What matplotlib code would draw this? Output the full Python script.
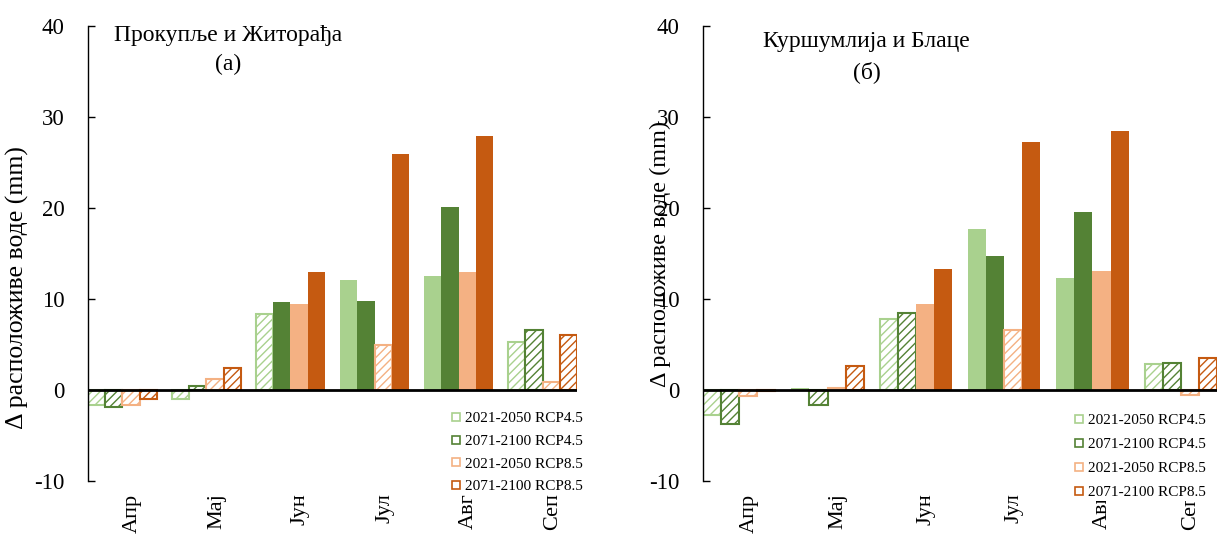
import numpy as np
import matplotlib.pyplot as plt
import matplotlib.transforms as mtransforms
from matplotlib.lines import Line2D

plt.rcParams['font.family'] = ['Liberation Serif', 'DejaVu Serif']
plt.rcParams['hatch.linewidth'] = 1.0
plt.rcParams['axes.unicode_minus'] = False

# месеци
months = ['Апр', 'Мај', 'Јун', 'Јул', 'Авг', 'Сеп']
series_names = ['2021-2050 RCP4.5', '2071-2100 RCP4.5', '2021-2050 RCP8.5', '2071-2100 RCP8.5']
colors = ['#A9D18E', '#548235', '#F4B183', '#C55A11']

# (а) Прокупље и Житорађа
a_45_2050 = [-1.6, -1.0, 8.4, 12.1, 12.5, 5.3]
a_45_2100 = [-1.9, 0.4, 9.7, 9.8, 20.1, 6.6]
a_85_2050 = [-1.6, 1.25, 9.5, 5.0, 12.95, 0.9]
a_85_2100 = [-1.0, 2.45, 13.0, 25.9, 27.9, 6.05]
# шрафирано = 1
a_hatch_45_2050 = [1, 1, 1, 0, 0, 1]
a_hatch_45_2100 = [1, 1, 0, 0, 0, 1]
a_hatch_85_2050 = [1, 1, 0, 1, 0, 1]
a_hatch_85_2100 = [1, 1, 0, 0, 0, 1]

# (б) Куршумлија и Блаце
b_45_2050 = [-2.7, 0.2, 7.8, 17.7, 12.3, 2.85]
b_45_2100 = [-3.7, -1.7, 8.5, 14.7, 19.6, 2.95]
b_85_2050 = [-0.7, 0.25, 9.45, 6.6, 13.05, -0.6]
b_85_2100 = [-0.15, 2.6, 13.3, 27.3, 28.5, 3.5]
b_hatch_45_2050 = [1, 0, 1, 0, 0, 1]
b_hatch_45_2100 = [1, 1, 1, 0, 0, 1]
b_hatch_85_2050 = [1, 1, 0, 1, 0, 1]
b_hatch_85_2100 = [1, 1, 0, 0, 0, 1]

W, H = 1232, 536
fig = plt.figure(figsize=(W / 100, H / 100), dpi=100)


def px_axes(x0, x1, y0, y1):
    return fig.add_axes([x0 / W, 1 - y1 / H, (x1 - x0) / W, (y1 - y0) / H])


def draw_panel(ax, data, hatches, ylab_x, ylab_y, ylab_size, legend_xy, legend_sp):
    x = np.arange(len(months))
    bw = 0.205
    for k in range(4):
        xs = x + (k - 1.5) * bw
        for i in range(len(months)):
            if hatches[k][i]:
                ax.bar(xs[i], data[k][i], bw, facecolor='white', edgecolor=colors[k],
                       hatch='////', linewidth=1.5, zorder=2)
            else:
                ax.bar(xs[i], data[k][i], bw, color=colors[k], linewidth=0, zorder=2)
    ax.axhline(0, color='black', lw=2, zorder=3)
    ax.set_xlim(-0.41, len(months) - 1 + 0.41)
    ax.set_ylim(-10, 40)
    ax.set_yticks([-10, 0, 10, 20, 30, 40])
    ax.tick_params(axis='y', direction='in', length=5, width=1, labelsize=16.5, pad=17)
    ax.set_xticks(x)
    ax.set_xticklabels(months, rotation=90, fontsize=16)
    ax.tick_params(axis='x', length=0, pad=9)
    offset = mtransforms.ScaledTranslation(10 / 100, 0, fig.dpi_scale_trans)
    for lab in ax.get_xticklabels():
        lab.set_transform(lab.get_transform() + offset)
    for s in ['top', 'right', 'bottom']:
        ax.spines[s].set_visible(False)
    ax.spines['left'].set_linewidth(1)
    ax.set_ylabel('Δ расположиве воде (mm)', fontsize=ylab_size)
    ax.yaxis.set_label_coords(ylab_x, ylab_y)

    handles = [Line2D([0], [0], marker='s', linestyle='none', markersize=6,
                      markerfacecolor='white', markeredgecolor=c, markeredgewidth=1.2)
               for c in colors]
    leg = ax.legend(handles, series_names, loc='upper left',
                    bbox_to_anchor=(legend_xy[0] / W, 1 - legend_xy[1] / H),
                    bbox_transform=fig.transFigure, fontsize=11, frameon=True,
                    facecolor='white', edgecolor='none', framealpha=1, fancybox=False,
                    borderpad=0.1, borderaxespad=0, handlelength=0.6, handletextpad=0.3,
                    labelspacing=legend_sp)
    leg.set_zorder(6)


ax1 = px_axes(88, 577, 26, 481)
draw_panel(ax1, [a_45_2050, a_45_2100, a_85_2050, a_85_2100],
           [a_hatch_45_2050, a_hatch_45_2100, a_hatch_85_2050, a_hatch_85_2100],
           -0.12, 0.425, 18.5, (450, 410), 0.59)

ax2 = px_axes(703, 1217, 26, 481)
draw_panel(ax2, [b_45_2050, b_45_2100, b_85_2050, b_85_2100],
           [b_hatch_45_2050, b_hatch_45_2100, b_hatch_85_2050, b_hatch_85_2100],
           -0.062, 0.498, 17.5, (1073, 412), 0.68)

# наслови
fig.text(228 / W, 1 - 36 / H, 'Прокупље и Житорађа', ha='center', va='center', fontsize=17)
fig.text(228 / W, 1 - 64 / H, '(а)', ha='center', va='center', fontsize=17)
fig.text(866 / W, 1 - 41 / H, 'Куршумлија и Блаце', ha='center', va='center', fontsize=17)
fig.text(867 / W, 1 - 72 / H, '(б)', ha='center', va='center', fontsize=17)

plt.savefig('out.png', dpi=100)
